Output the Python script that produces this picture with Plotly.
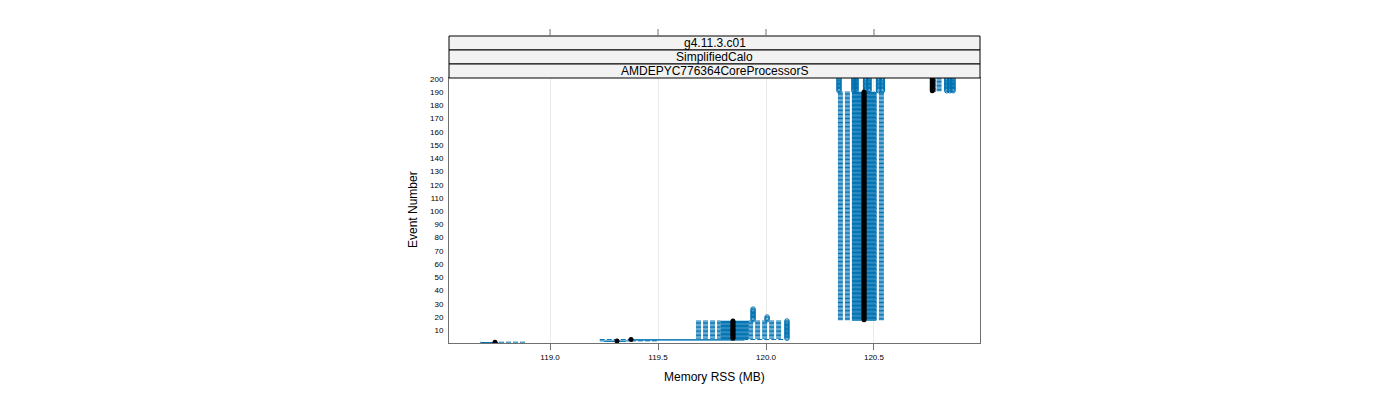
import plotly.graph_objects as go

# ---- data -----------------------------------------------------------------
# consecutive event ranges that share the same box statistics (Memory RSS, MB)
grp_first = [1, 2, 3, 4, 18, 191]
grp_last = [1, 2, 3, 17, 190, 200]
grp_lo = [118.676, 119.230, 119.230, 119.676, 120.333, 120.765]
grp_q1 = [118.680, 119.250, 119.360, 119.790, 120.398, 120.765]
grp_med = [118.745, 119.310, 119.375, 119.847, 120.454, 120.770]
grp_q3 = [118.760, 119.350, 119.900, 119.920, 120.510, 120.787]
grp_hi = [118.884, 119.495, 120.080, 120.070, 120.546, 120.813]

# outliers: event range and value
out_first = [4, 18, 18, 191, 191, 191, 191, 191, 191, 191, 191, 191, 191]
out_last = [17, 26, 20, 200, 200, 200, 200, 200, 200, 200, 200, 200, 200]
out_value = [120.097, 119.940, 120.005, 120.338, 120.407, 120.417,
             120.461, 120.477, 120.521, 120.539, 120.837, 120.851, 120.866]

x_ticks = [119.0, 119.5, 120.0, 120.5]
x_tick_labels = ["119.0", "119.5", "120.0", "120.5"]
y_ticks = list(range(10, 201, 10))
strip_labels = ["g4.11.3.c01", "SimplifiedCalo", "AMDEPYC776364CoreProcessorS"]
x_title = "Memory RSS (MB)"
y_title = "Event Number"

# ---- build traces -----------------------------------------------------------
BLUE = "#0072B2"
FONT = "Liberation Sans, Arial, sans-serif"
H = 0.25  # half box height in event units

box_x, box_y = [], []
wl_x, wl_y, wr_x, wr_y = [], [], [], []
med_x, med_y = [], []
for g in range(len(grp_first)):
    for n in range(grp_first[g], grp_last[g] + 1):
        lo, q1, md, q3, hi = grp_lo[g], grp_q1[g], grp_med[g], grp_q3[g], grp_hi[g]
        box_x += [q1, q3, q3, q1, q1, None]
        box_y += [n - H, n - H, n + H, n + H, n - H, None]
        wl_x += [lo, q1, None]
        wl_y += [n, n, None]
        wr_x += [hi, q3, None]
        wr_y += [n, n, None]
        med_x.append(md)
        med_y.append(n)

ol_x, ol_y = [], []
for i in range(len(out_value)):
    for n in range(out_first[i], out_last[i] + 1):
        ol_x.append(out_value[i])
        ol_y.append(n)

fig = go.Figure()
for xs, ys in ((wl_x, wl_y), (wr_x, wr_y)):
    fig.add_trace(go.Scatter(x=xs, y=ys, mode="lines", hoverinfo="skip",
                             line=dict(color=BLUE, width=1, dash="5px,2px"),
                             showlegend=False))
fig.add_trace(go.Scatter(x=box_x, y=box_y, mode="lines", hoverinfo="skip",
                         line=dict(color=BLUE, width=1), showlegend=False))
fig.add_trace(go.Scatter(x=ol_x, y=ol_y, mode="markers", showlegend=False,
                         marker=dict(symbol="circle-open", size=4.5, color=BLUE,
                                     line=dict(width=1, color=BLUE))))
fig.add_trace(go.Scatter(x=med_x, y=med_y, mode="markers", showlegend=False,
                         marker=dict(symbol="circle", size=5, color="black")))

# ---- layout -----------------------------------------------------------------
L, R, T, B = 449, 980, 78, 343
PH = B - T


def py(px):
    return (B - px) / PH


AX = "#707070"
fig.update_layout(
    width=1400, height=400,
    margin=dict(l=L, r=1400 - R, t=T, b=400 - B),
    paper_bgcolor="white", plot_bgcolor="white",
    font=dict(family=FONT, color="black"),
    xaxis=dict(range=[118.532, 120.991], tickvals=x_ticks, ticktext=x_tick_labels,
               ticks="outside", ticklen=6, tickcolor=AX, tickwidth=1,
               showline=True, linecolor=AX, linewidth=1, mirror=True,
               showgrid=True, gridcolor="#ebebeb", gridwidth=1, zeroline=False,
               tickfont=dict(size=8, family=FONT, color="black")),
    yaxis=dict(range=[0.4, 200.6], tickvals=y_ticks, ticks="",
               showline=True, linecolor=AX, linewidth=1, mirror=True,
               showgrid=False, zeroline=False, ticklabelstandoff=3,
               tickfont=dict(size=8, family=FONT, color="black")),
)

edges = [36, 50, 64, 78]
shapes = []
annos = []
for i, lab in enumerate(strip_labels):
    shapes.append(dict(type="rect", xref="paper", yref="paper", x0=0, x1=1,
                       y0=py(edges[i + 1]), y1=py(edges[i]),
                       fillcolor="#f2f2f2", line=dict(color="black", width=1),
                       layer="above"))
    annos.append(dict(text=lab, xref="paper", yref="paper", x=0.5,
                      y=py((edges[i] + edges[i + 1]) / 2), showarrow=False,
                      font=dict(size=12, family=FONT, color="black"),
                      xanchor="center", yanchor="middle"))
for v in x_ticks:
    shapes.append(dict(type="line", xref="x", yref="paper", x0=v, x1=v,
                       y0=py(36), y1=py(29), line=dict(color=AX, width=1)))

annos.append(dict(text=x_title, xref="paper", yref="paper", x=0.5, y=py(377),
                  showarrow=False, font=dict(size=12, family=FONT, color="black"),
                  xanchor="center", yanchor="middle"))
annos.append(dict(text=y_title, xref="paper", yref="paper", x=(413 - L) / (R - L),
                  y=py(210), showarrow=False, textangle=-90,
                  font=dict(size=12, family=FONT, color="black"),
                  xanchor="center", yanchor="middle"))
fig.update_layout(shapes=shapes, annotations=annos)

fig.write_html("out.html")
